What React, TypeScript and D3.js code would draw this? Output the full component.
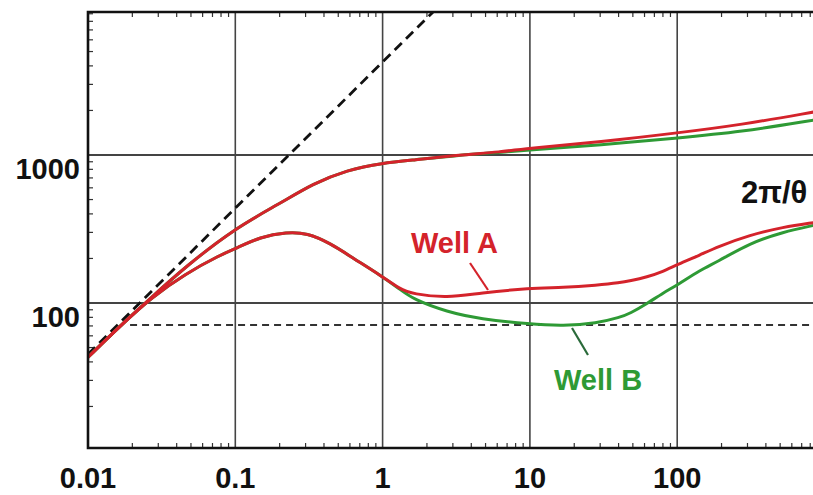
import React from "react";
import * as d3 from "d3";

const xTicks = [0.01, 0.1, 1, 10, 100];
const xTickLabels = ["0.01", "0.1", "1", "10", "100"];
const yTicks = [100, 1000];
const yTickLabels = ["100", "1000"];

const upperX = [0.01, 0.016, 0.0272, 0.0456, 0.1, 0.201, 0.337, 0.573, 1.0, 1.61, 3.35, 6.27, 10, 29.9, 100, 267, 850];
const upperRed = [43, 68, 110, 175, 321, 470, 640, 792, 883, 925, 1000, 1047, 1114, 1225, 1409, 1596, 1954];
const upperGreen = [43, 68, 110, 175, 321, 470, 640, 792, 883, 925, 1000, 1040, 1081, 1169, 1303, 1429, 1723];

const lowerX = [0.01, 0.016, 0.0272, 0.0456, 0.0787, 0.1027, 0.147, 0.2244, 0.307, 0.44, 0.63, 0.959, 1.31, 1.61, 2.74, 4.59, 10, 16.8, 28.5, 40.9, 47.8, 62.4, 80.1, 100, 143, 186, 312, 523, 850];
const lowerRed = [43, 68, 110, 157, 211, 235, 279, 302, 297, 254, 201, 155, 124, 115, 108, 117, 126, 127, 132, 137, 141, 150, 163, 182, 211, 239, 288, 326, 350];
const lowerGreen = [43, 68, 110, 157, 211, 235, 279, 302, 297, 254, 201, 155, 124, 106, 87, 78, 72, 70, 73, 80, 85, 99, 117, 132, 167, 189, 254, 302, 335];

const slopeLineX = [0.01, 2.2];
const slopeLineY = [45, 9250];
const floorLineX = [0.0193, 1000];
const floorLineY = [71, 71];

const W = 813;
const H = 495;
const RED = "#d4232b";
const GREEN = "#2e9a35";

export default function App() {
  const left = 88, top = 12, bottom = 448;
  const x = d3.scaleLog().domain([0.01, 1000]).range([left, left + 5 * 147.3]);
  const y = d3.scaleLog().domain([10.48, 9250]).range([bottom, top]);

  const line = d3
    .line<[number, number]>()
    .x((d) => x(d[0]))
    .y((d) => y(d[1]))
    .curve(d3.curveBasis);
  const straight = d3
    .line<[number, number]>()
    .x((d) => x(d[0]))
    .y((d) => y(d[1]));

  const zip = (xs: number[], ys: number[]) => xs.map((v, i) => [v, ys[i]] as [number, number]);

  const minorX: number[] = [];
  for (let d = -2; d <= 2; d++) for (let k = 2; k <= 9; k++) minorX.push(k * Math.pow(10, d));
  const minorY: number[] = [];
  for (let d = 1; d <= 3; d++) for (let k = 2; k <= 9; k++) {
    const v = k * Math.pow(10, d);
    if (v > 10.5 && v < 9250) minorY.push(v);
  }

  const font = "'Liberation Sans', Arial, sans-serif";

  return (
    <svg width={W} height={H} style={{ position: "absolute", left: 0, top: 0, background: "#fff" }}>
      <defs>
        <clipPath id="plot">
          <rect x={left} y={top} width={W - left + 20} height={bottom - top} />
        </clipPath>
      </defs>
      <rect x={0} y={0} width={W} height={H} fill="#fff" />
      {xTicks.slice(1).map((t) => (
        <line key={"gx" + t} x1={x(t)} x2={x(t)} y1={top} y2={bottom} stroke="#444" strokeWidth={1.6} />
      ))}
      {yTicks.map((t) => (
        <line key={"gy" + t} x1={left} x2={W} y1={y(t)} y2={y(t)} stroke="#444" strokeWidth={1.8} />
      ))}
      {minorX.map((t) =>
        x(t) < W ? (
          <g key={"mx" + t}>
            <line x1={x(t)} x2={x(t)} y1={top} y2={top + 5} stroke="#333" strokeWidth={1.2} />
            <line x1={x(t)} x2={x(t)} y1={bottom} y2={bottom - 5} stroke="#333" strokeWidth={1.2} />
          </g>
        ) : null
      )}
      {minorY.map((t) => (
        <line key={"my" + t} x1={left} x2={left + 5} y1={y(t)} y2={y(t)} stroke="#333" strokeWidth={1.2} />
      ))}
      <g clipPath="url(#plot)">
        <path d={straight(zip(floorLineX, floorLineY)) || ""} fill="none" stroke="#333" strokeWidth={2} strokeDasharray="7,5" />
        <path d={straight(zip(slopeLineX, slopeLineY)) || ""} fill="none" stroke="#111" strokeWidth={2.8} strokeDasharray="10,6" />
        <path d={line(zip(upperX, upperGreen)) || ""} fill="none" stroke={GREEN} strokeWidth={3} />
        <path d={line(zip(lowerX, lowerGreen)) || ""} fill="none" stroke={GREEN} strokeWidth={3} />
        <path d={line(zip(upperX, upperRed)) || ""} fill="none" stroke={RED} strokeWidth={3} />
        <path d={line(zip(lowerX, lowerRed)) || ""} fill="none" stroke={RED} strokeWidth={3} />
      </g>
      <path d={`M${W + 5},${top} L${left},${top} L${left},${bottom} L${W + 5},${bottom}`} fill="none" stroke="#111" strokeWidth={2.6} />
      {xTicks.map((t, i) => (
        <text key={"xl" + t} x={x(t)} y={488} textAnchor="middle" fontFamily={font} fontWeight="bold" fontSize={29} fill="#111">
          {xTickLabels[i]}
        </text>
      ))}
      {yTicks.map((t, i) => (
        <text key={"yl" + t} x={80} y={y(t) + 24} textAnchor="end" fontFamily={font} fontWeight="bold" fontSize={29} fill="#111">
          {yTickLabels[i]}
        </text>
      ))}
      <text x={411} y={253} fontFamily={font} fontWeight="bold" fontSize={29} fill={RED}>Well A</text>
      <line x1={470} y1={263} x2={488} y2={290} stroke={RED} strokeWidth={2.2} />
      <text x={554} y={390} fontFamily={font} fontWeight="bold" fontSize={29} fill={GREEN}>Well B</text>
      <line x1={572} y1={328} x2={588} y2={355} stroke="#2a6a3a" strokeWidth={2.2} />
      <text x={741} y={203} fontFamily={font} fontWeight="bold" fontSize={31} fill="#111">2π/θ</text>
    </svg>
  );
}
